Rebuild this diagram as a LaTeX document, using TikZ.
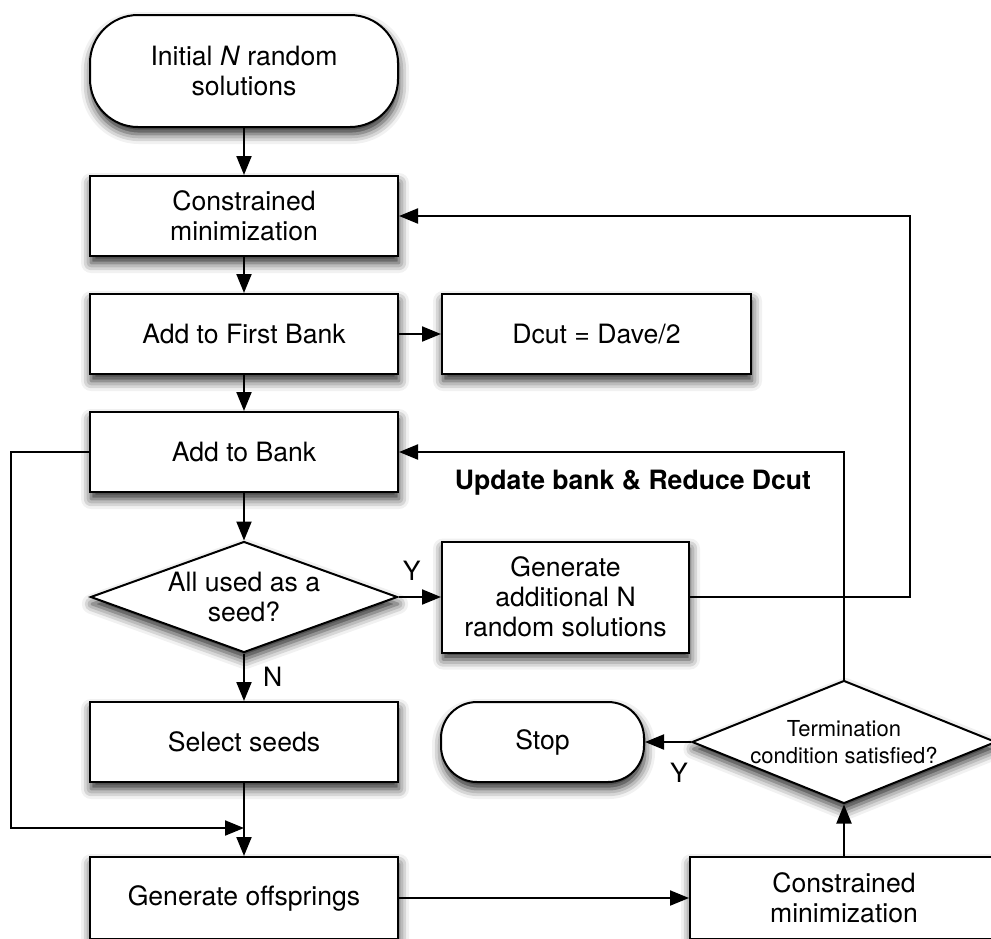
\documentclass[tikz,border=0pt]{standalone}
\usepackage{fontspec}
\setmainfont{TeX Gyre Heros}
\usetikzlibrary{arrows.meta,shapes,shadows.blur,positioning}
\tikzset{
    block/.style = {draw, rectangle, fill=white, line width=1pt,
        minimum height=40pt,
        minimum width=154pt, align=center,
        blur shadow={shadow xshift=0.5pt, shadow yshift=-3.5pt, shadow blur radius=5pt, shadow opacity=85}},
    terminal/.style = {block, rounded corners=24pt},
    decision/.style = {draw, diamond, fill=white, line width=1pt, inner sep=0pt, align=center,
        blur shadow={shadow xshift=0.5pt, shadow yshift=-3.5pt, shadow blur radius=5pt, shadow opacity=85}},
    arrow/.style={draw, line width=1pt, -{Triangle[length=9.5pt,width=7.5pt]}},
    lbl/.style = {inner sep=0pt}
}

\begin{document}
\begin{tikzpicture}[node distance=2cm, every node/.style={font=\fontsize{13.3pt}{15pt}\selectfont}]
    \useasboundingbox (0,0) rectangle (495.5pt,-469pt);
    \clip (0,0) rectangle (495.5pt,-469pt);
    \node [terminal, minimum height=56pt] (init) at (122pt,-35.5pt) {Initial \textit{N} random\\solutions};
    \node [block, below of=init, node distance=72.5pt] (cmin) {Constrained\\minimization};
    \node [block, below of=cmin, node distance=59pt] (firstbank) {Add to First Bank};
    \node [block, right of=firstbank, node distance=176.25pt, minimum width=154.5pt] (dcut) {Dcut = Dave/2};
    \node [block, below of=firstbank, node distance=59pt] (bank) {Add to Bank};
    \node [decision, below of=bank, node distance=72.5pt, minimum width=153.5pt, minimum height=55.5pt, aspect=2.77] (seeded) {All used as a\\seed?};
    \node [block, right of=seeded, node distance=160.75pt, minimum width=123.5pt, minimum height=55.5pt] (addgen) {Generate\\additional N\\random solutions};
    \node [block, below of=seeded, node distance=72.5pt] (select) {Select seeds};
    \node [terminal, right of=select, node distance=149.25pt, minimum width=101.5pt, rounded corners=18pt] (stop) {Stop};
    \node [decision, right of=select, node distance=300pt, minimum width=152pt, minimum height=61.5pt, aspect=2.47,
        font=\fontsize{11pt}{13.3pt}\selectfont] (termq) {Termination\\condition satisfied?};
    \node [block, below of=select, node distance=78pt, minimum height=41pt] (offs) {Generate offsprings};
    \node [block, right of=offs, node distance=300pt, minimum height=41pt] (cmin2) {Constrained\\minimization};
    \coordinate [below=22.5pt of select.south] (merge);
    \node [font=\fontsize{13.3pt}{15pt}\bfseries] (upd) at ([xshift=117pt,yshift=-15.5pt]bank.east) {Update bank \& Reduce Dcut};

    \draw [arrow] (init) -- (cmin);
    \draw [arrow] (cmin) -- (firstbank);
    \draw [arrow] (firstbank) -- (dcut);
    \draw [arrow] (firstbank) -- (bank);
    \draw [arrow] (bank) -- (seeded);
    \draw [arrow] (seeded) -- node [lbl, pos=0.31, above=8pt] {Y} (addgen);
    \draw [arrow] (addgen.east) -- ++(110pt,0) |- (cmin.east);
    \draw [arrow] (seeded) -- node [lbl, right=9pt] {N} (select);
    \draw [arrow] (select) -- (offs);
    \draw [arrow] (bank.west) -- ++(-39pt,0) |- (merge);
    \draw [arrow] (offs) -- (cmin2);
    \draw [arrow] (cmin2) -- (termq);
    \draw [arrow] (termq) -- node [lbl, pos=0.26, below=10pt] {Y} (stop);
    \draw [arrow] (termq.north) |- (bank.east);
\end{tikzpicture}
\end{document}
